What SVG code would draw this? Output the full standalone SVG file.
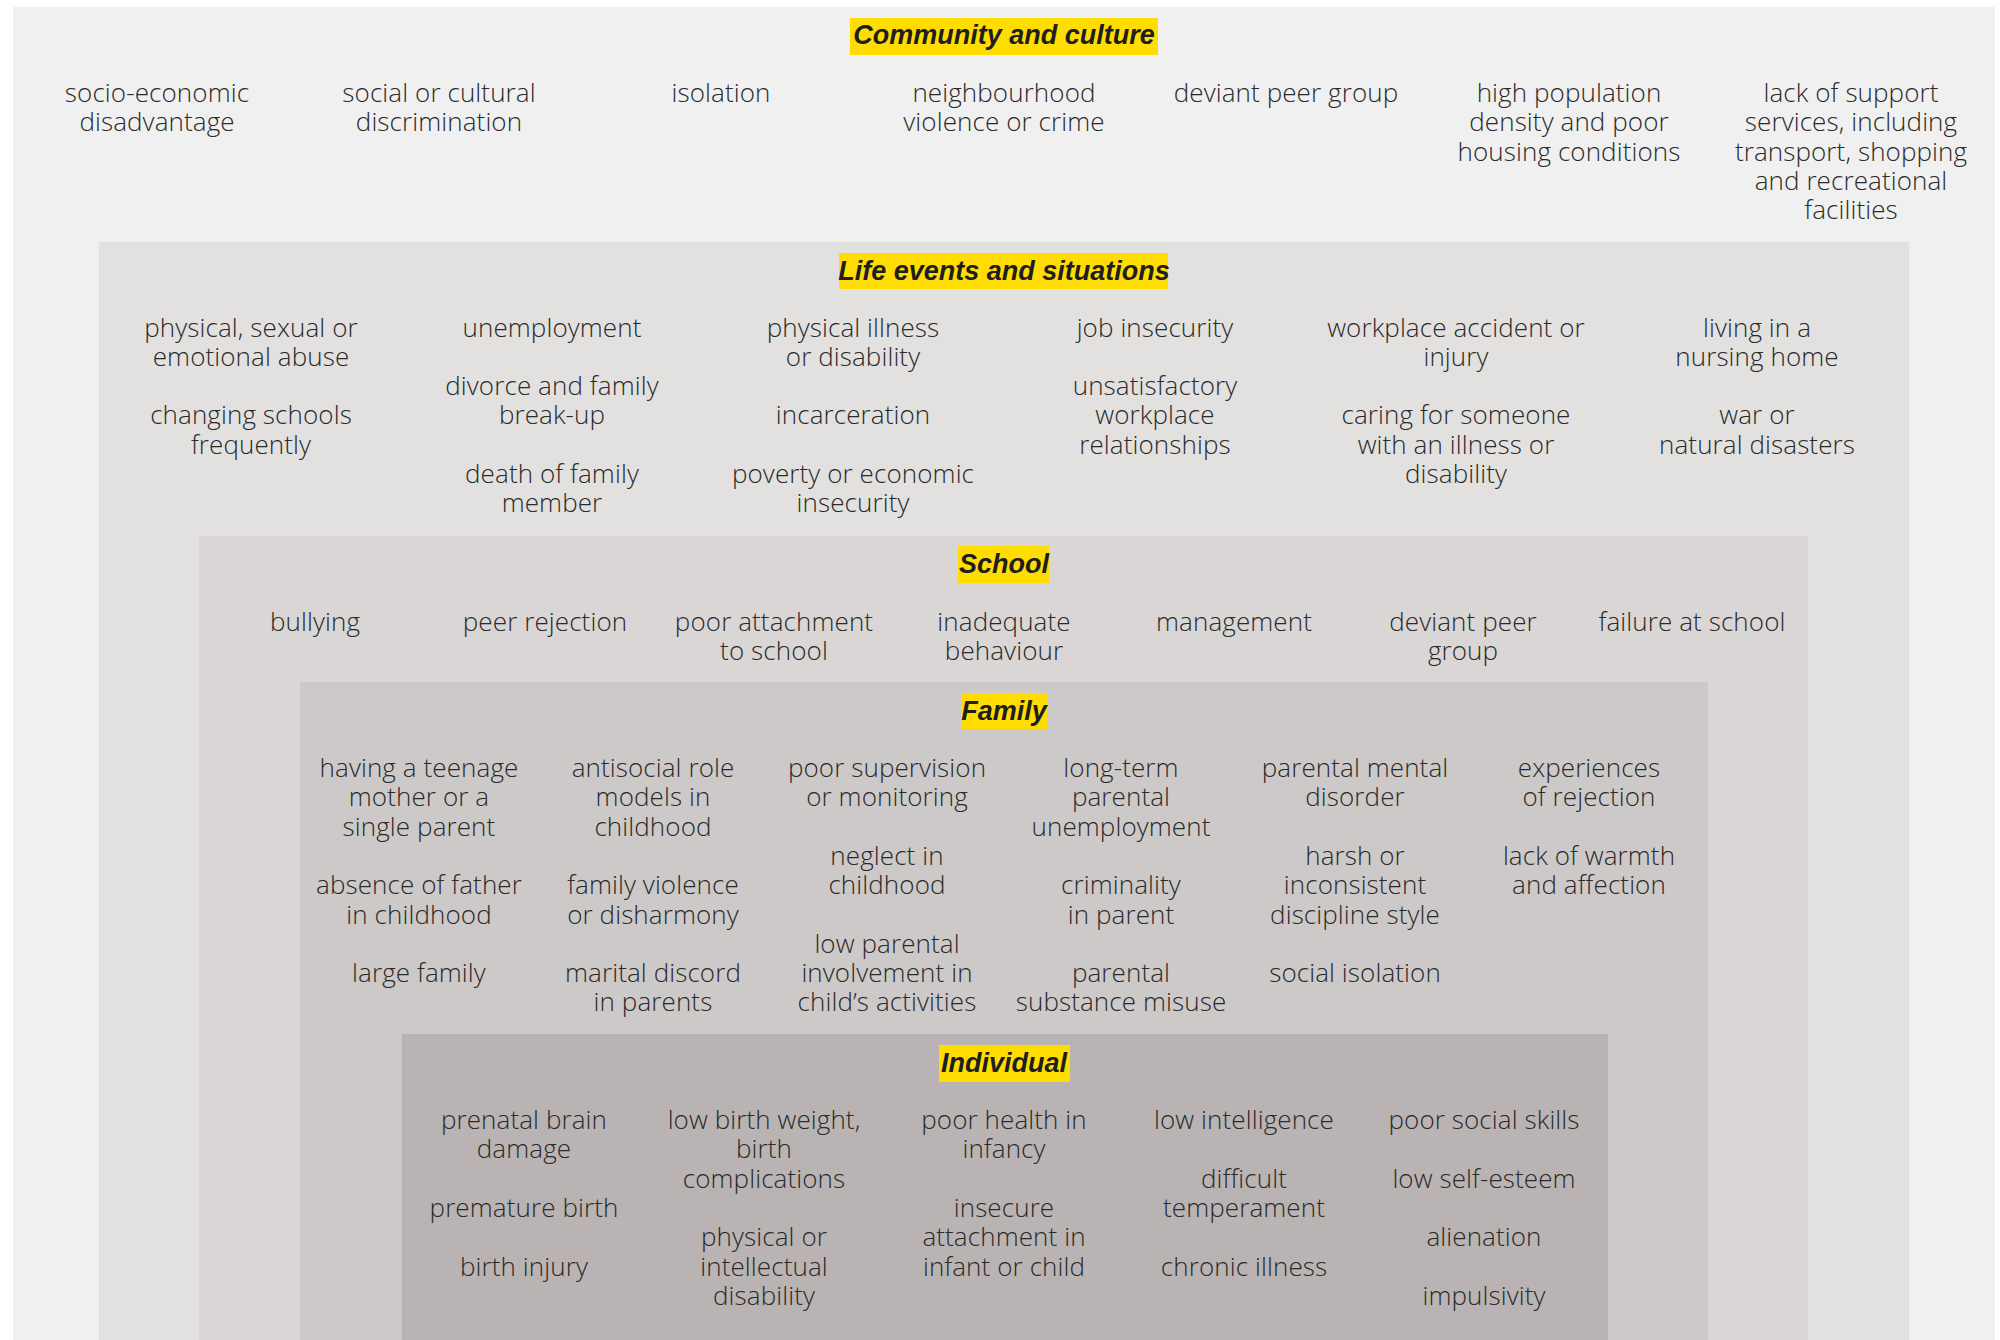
<svg xmlns="http://www.w3.org/2000/svg" width="2000" height="1340" viewBox="0 0 2000 1340">
<style>
.bg{fill:#ffffff}
.p1{fill:#f0f0f0}
.p2{fill:#e2e1e0}
.p3{fill:#d9d6d5}
.p4{fill:#cdc9c8}
.p5{fill:#b9b4b3}
.tb{fill:#ffdd00}
.tt{font-family:"Liberation Sans",Arial,sans-serif;font-weight:bold;font-style:italic;font-size:27px;fill:#1e1e1e;text-anchor:middle}
.it{font-family:"Open Sans","Liberation Sans",sans-serif;font-weight:300;font-size:26px;letter-spacing:0.1px;fill:#2a2a2a;text-anchor:middle}
</style>
<rect class="bg" x="0" y="0" width="2000" height="1340"/>
<g id="panel-community">
<rect class="p1" x="13" y="7" width="1982" height="1333"/>
</g>
<g id="panel-life">
<rect class="p2" x="99" y="242" width="1810" height="1098"/>
</g>
<g id="panel-school">
<rect class="p3" x="199" y="536" width="1609" height="804"/>
</g>
<g id="panel-family">
<rect class="p4" x="300" y="682" width="1408" height="658"/>
</g>
<g id="panel-individual">
<rect class="p5" x="402" y="1034" width="1206" height="306"/>
</g>
<g id="connectors"></g>

<g id="title-community"><rect class="tb" x="850" y="18" width="308" height="37"/><text class="tt" x="1004" y="44">Community and culture</text></g>
<g id="title-life"><rect class="tb" x="839" y="253" width="329" height="36"/><text class="tt" x="1004" y="280">Life events and situations</text></g>
<g id="title-school"><rect class="tb" x="958" y="546" width="91" height="37"/><text class="tt" x="1004" y="573">School</text></g>
<g id="title-family"><rect class="tb" x="961" y="693" width="86" height="36"/><text class="tt" x="1004" y="720">Family</text></g>
<g id="title-individual"><rect class="tb" x="939" y="1045" width="131" height="37"/><text class="tt" x="1004" y="1072">Individual</text></g>

<!-- Community and culture -->
<g id="c1"><text class="it"><tspan x="157" y="102">socio-economic</tspan><tspan x="157" y="131.3">disadvantage</tspan></text></g>
<g id="c2"><text class="it"><tspan x="439" y="102">social or cultural</tspan><tspan x="439" y="131.3">discrimination</tspan></text></g>
<g id="c3"><text class="it"><tspan x="721" y="102">isolation</tspan></text></g>
<g id="c4"><text class="it"><tspan x="1004" y="102">neighbourhood</tspan><tspan x="1004" y="131.3">violence or crime</tspan></text></g>
<g id="c5"><text class="it"><tspan x="1286" y="102">deviant peer group</tspan></text></g>
<g id="c6"><text class="it"><tspan x="1569" y="102">high population</tspan><tspan x="1569" y="131.3">density and poor</tspan><tspan x="1569" y="160.6">housing conditions</tspan></text></g>
<g id="c7"><text class="it"><tspan x="1851" y="102">lack of support</tspan><tspan x="1851" y="131.3">services, including</tspan><tspan x="1851" y="160.6">transport, shopping</tspan><tspan x="1851" y="189.9">and recreational</tspan><tspan x="1851" y="219.2">facilities</tspan></text></g>

<!-- Life events and situations -->
<g id="l1a"><text class="it"><tspan x="251" y="336.5">physical, sexual or</tspan><tspan x="251" y="365.8">emotional abuse</tspan></text></g>
<g id="l1b"><text class="it"><tspan x="251" y="424.4">changing schools</tspan><tspan x="251" y="453.7">frequently</tspan></text></g>
<g id="l2a"><text class="it"><tspan x="552" y="336.5">unemployment</tspan></text></g>
<g id="l2b"><text class="it"><tspan x="552" y="395.1">divorce and family</tspan><tspan x="552" y="424.4">break-up</tspan></text></g>
<g id="l2c"><text class="it"><tspan x="552" y="483">death of family</tspan><tspan x="552" y="512.3">member</tspan></text></g>
<g id="l3a"><text class="it"><tspan x="853" y="336.5">physical illness</tspan><tspan x="853" y="365.8">or disability</tspan></text></g>
<g id="l3b"><text class="it"><tspan x="853" y="424.4">incarceration</tspan></text></g>
<g id="l3c"><text class="it"><tspan x="853" y="483">poverty or economic</tspan><tspan x="853" y="512.3">insecurity</tspan></text></g>
<g id="l4a"><text class="it"><tspan x="1155" y="336.5">job insecurity</tspan></text></g>
<g id="l4b"><text class="it"><tspan x="1155" y="395.1">unsatisfactory</tspan><tspan x="1155" y="424.4">workplace</tspan><tspan x="1155" y="453.7">relationships</tspan></text></g>
<g id="l5a"><text class="it"><tspan x="1456" y="336.5">workplace accident or</tspan><tspan x="1456" y="365.8">injury</tspan></text></g>
<g id="l5b"><text class="it"><tspan x="1456" y="424.4">caring for someone</tspan><tspan x="1456" y="453.7">with an illness or</tspan><tspan x="1456" y="483">disability</tspan></text></g>
<g id="l6a"><text class="it"><tspan x="1757" y="336.5">living in a</tspan><tspan x="1757" y="365.8">nursing home</tspan></text></g>
<g id="l6b"><text class="it"><tspan x="1757" y="424.4">war or</tspan><tspan x="1757" y="453.7">natural disasters</tspan></text></g>

<!-- School -->
<g id="s1"><text class="it"><tspan x="315" y="631">bullying</tspan></text></g>
<g id="s2"><text class="it"><tspan x="545" y="631">peer rejection</tspan></text></g>
<g id="s3"><text class="it"><tspan x="774" y="631">poor attachment</tspan><tspan x="774" y="660.3">to school</tspan></text></g>
<g id="s4"><text class="it"><tspan x="1004" y="631">inadequate</tspan><tspan x="1004" y="660.3">behaviour</tspan></text></g>
<g id="s5"><text class="it"><tspan x="1234" y="631">management</tspan></text></g>
<g id="s6"><text class="it"><tspan x="1463" y="631">deviant peer</tspan><tspan x="1463" y="660.3">group</tspan></text></g>
<g id="s7"><text class="it"><tspan x="1692" y="631">failure at school</tspan></text></g>

<!-- Family -->
<g id="f1a"><text class="it"><tspan x="419" y="777">having a teenage</tspan><tspan x="419" y="806.3">mother or a</tspan><tspan x="419" y="835.6">single parent</tspan></text></g>
<g id="f1b"><text class="it"><tspan x="419" y="894.2">absence of father</tspan><tspan x="419" y="923.5">in childhood</tspan></text></g>
<g id="f1c"><text class="it"><tspan x="419" y="982.1">large family</tspan></text></g>
<g id="f2a"><text class="it"><tspan x="653" y="777">antisocial role</tspan><tspan x="653" y="806.3">models in</tspan><tspan x="653" y="835.6">childhood</tspan></text></g>
<g id="f2b"><text class="it"><tspan x="653" y="894.2">family violence</tspan><tspan x="653" y="923.5">or disharmony</tspan></text></g>
<g id="f2c"><text class="it"><tspan x="653" y="982.1">marital discord</tspan><tspan x="653" y="1011.4">in parents</tspan></text></g>
<g id="f3a"><text class="it"><tspan x="887" y="777">poor supervision</tspan><tspan x="887" y="806.3">or monitoring</tspan></text></g>
<g id="f3b"><text class="it"><tspan x="887" y="864.9">neglect in</tspan><tspan x="887" y="894.2">childhood</tspan></text></g>
<g id="f3c"><text class="it"><tspan x="887" y="952.8">low parental</tspan><tspan x="887" y="982.1">involvement in</tspan><tspan x="887" y="1011.4">child’s activities</tspan></text></g>
<g id="f4a"><text class="it"><tspan x="1121" y="777">long-term</tspan><tspan x="1121" y="806.3">parental</tspan><tspan x="1121" y="835.6">unemployment</tspan></text></g>
<g id="f4b"><text class="it"><tspan x="1121" y="894.2">criminality</tspan><tspan x="1121" y="923.5">in parent</tspan></text></g>
<g id="f4c"><text class="it"><tspan x="1121" y="982.1">parental</tspan><tspan x="1121" y="1011.4">substance misuse</tspan></text></g>
<g id="f5a"><text class="it"><tspan x="1355" y="777">parental mental</tspan><tspan x="1355" y="806.3">disorder</tspan></text></g>
<g id="f5b"><text class="it"><tspan x="1355" y="864.9">harsh or</tspan><tspan x="1355" y="894.2">inconsistent</tspan><tspan x="1355" y="923.5">discipline style</tspan></text></g>
<g id="f5c"><text class="it"><tspan x="1355" y="982.1">social isolation</tspan></text></g>
<g id="f6a"><text class="it"><tspan x="1589" y="777">experiences</tspan><tspan x="1589" y="806.3">of rejection</tspan></text></g>
<g id="f6b"><text class="it"><tspan x="1589" y="864.9">lack of warmth</tspan><tspan x="1589" y="894.2">and affection</tspan></text></g>

<!-- Individual -->
<g id="i1a"><text class="it"><tspan x="524" y="1129">prenatal brain</tspan><tspan x="524" y="1158.3">damage</tspan></text></g>
<g id="i1b"><text class="it"><tspan x="524" y="1216.9">premature birth</tspan></text></g>
<g id="i1c"><text class="it"><tspan x="524" y="1275.5">birth injury</tspan></text></g>
<g id="i2a"><text class="it"><tspan x="764" y="1129">low birth weight,</tspan><tspan x="764" y="1158.3">birth</tspan><tspan x="764" y="1187.6">complications</tspan></text></g>
<g id="i2b"><text class="it"><tspan x="764" y="1246.2">physical or</tspan><tspan x="764" y="1275.5">intellectual</tspan><tspan x="764" y="1304.8">disability</tspan></text></g>
<g id="i3a"><text class="it"><tspan x="1004" y="1129">poor health in</tspan><tspan x="1004" y="1158.3">infancy</tspan></text></g>
<g id="i3b"><text class="it"><tspan x="1004" y="1216.9">insecure</tspan><tspan x="1004" y="1246.2">attachment in</tspan><tspan x="1004" y="1275.5">infant or child</tspan></text></g>
<g id="i4a"><text class="it"><tspan x="1244" y="1129">low intelligence</tspan></text></g>
<g id="i4b"><text class="it"><tspan x="1244" y="1187.6">difficult</tspan><tspan x="1244" y="1216.9">temperament</tspan></text></g>
<g id="i4c"><text class="it"><tspan x="1244" y="1275.5">chronic illness</tspan></text></g>
<g id="i5a"><text class="it"><tspan x="1484" y="1129">poor social skills</tspan></text></g>
<g id="i5b"><text class="it"><tspan x="1484" y="1187.6">low self-esteem</tspan></text></g>
<g id="i5c"><text class="it"><tspan x="1484" y="1246.2">alienation</tspan></text></g>
<g id="i5d"><text class="it"><tspan x="1484" y="1304.8">impulsivity</tspan></text></g>
</svg>
